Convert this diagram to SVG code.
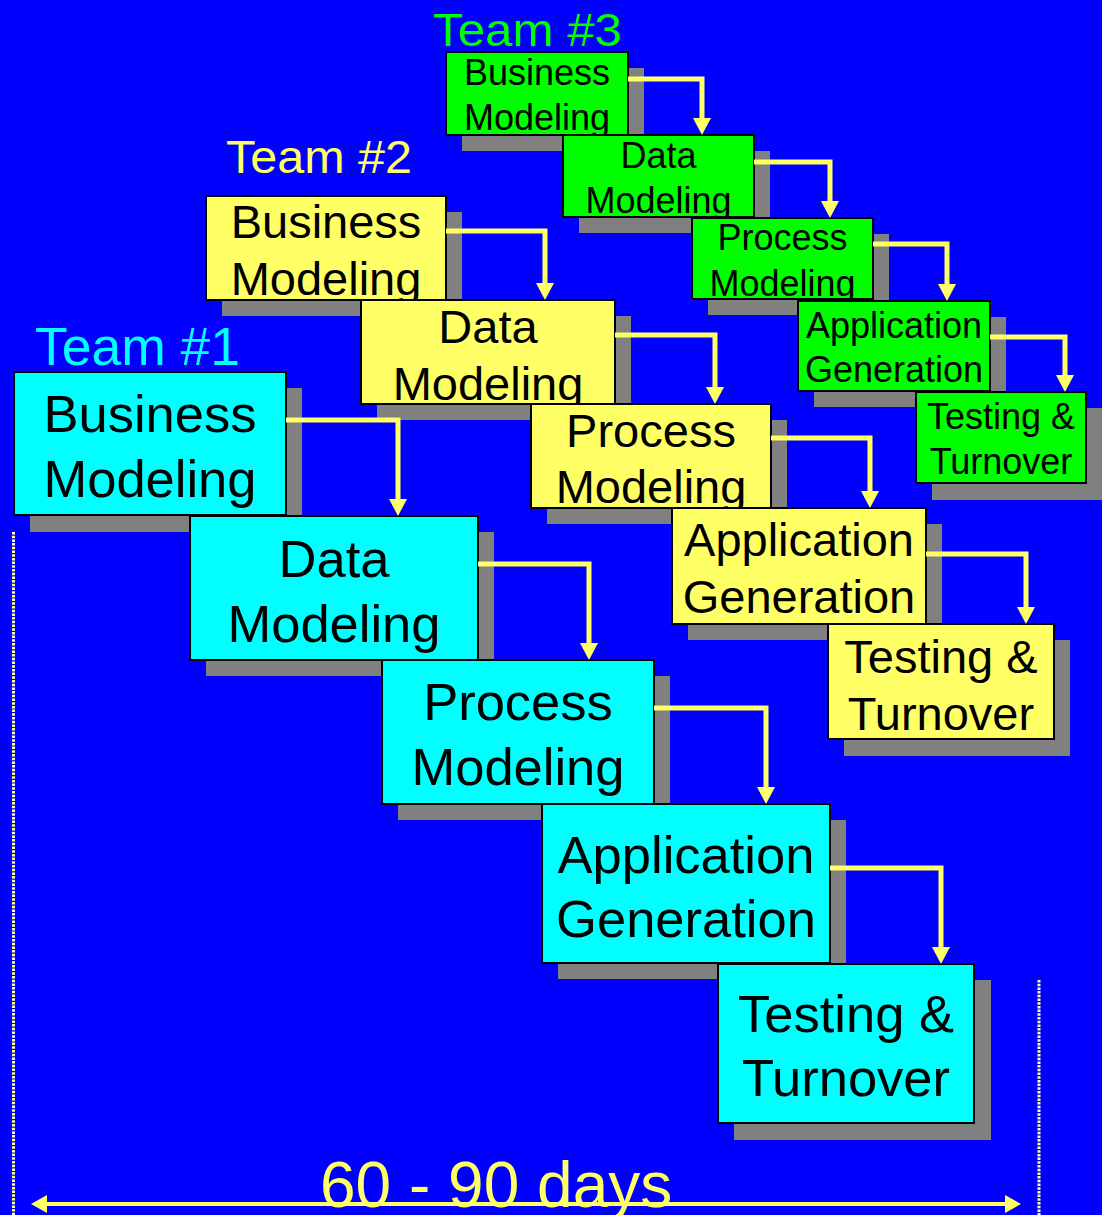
<svg xmlns="http://www.w3.org/2000/svg" width="1102" height="1215" viewBox="0 0 1102 1215">
  <style>
    text { font-family: "Liberation Sans", Arial, sans-serif; }
    .shadow { fill: #808080; }
    .box { stroke: #000; stroke-width: 2; }
    .t1 .box { fill: #00FFFF; }
    .t2 .box { fill: #FFFF66; }
    .t3 .box { fill: #00FF00; }
    .lbl { fill: #000; text-anchor: middle; }
    .t1 .lbl { font-size: 52.5px; }
    .t2 .lbl { font-size: 47px; }
    .t3 .lbl { font-size: 36px; }
    .frame { fill: none; stroke: #000; stroke-width: 2; }
    .link { fill: none; stroke: #FFFF66; stroke-width: 5; stroke-linejoin: miter; marker-end: url(#head); }
    .team { font-size: 47px; }
    .span { fill: none; stroke: #FFFF66; stroke-width: 4; }
    .tick { fill: none; stroke: #FFFF99; stroke-width: 3; stroke-dasharray: 2.5 1.2; }
  </style>
  <defs>
    <marker id="head" markerUnits="userSpaceOnUse" viewBox="0 0 17 18" markerWidth="17" markerHeight="18" refX="0" refY="9" orient="auto">
      <path d="M0,0 L17,9 L0,18 Z" fill="#FFFF66"/>
    </marker>
    <!-- clip regions so labels never spill past their box -->
    <clipPath id="c3b"><rect x="446" y="52" width="182" height="83"/></clipPath>
    <clipPath id="c3d"><rect x="563" y="135" width="191" height="82"/></clipPath>
    <clipPath id="c3p"><rect x="692" y="218" width="181" height="81"/></clipPath>
    <clipPath id="c3a"><rect x="798" y="301" width="192" height="90"/></clipPath>
    <clipPath id="c3t"><rect x="916" y="392" width="170" height="91"/></clipPath>
    <clipPath id="c2b"><rect x="206" y="196" width="240" height="104"/></clipPath>
    <clipPath id="c2d"><rect x="361" y="300" width="254" height="104"/></clipPath>
    <clipPath id="c2p"><rect x="531" y="404" width="240" height="104"/></clipPath>
    <clipPath id="c2a"><rect x="672" y="508" width="254" height="116"/></clipPath>
    <clipPath id="c2t"><rect x="828" y="624" width="226" height="115"/></clipPath>
    <clipPath id="c1b"><rect x="14" y="372" width="272" height="143"/></clipPath>
    <clipPath id="c1d"><rect x="190" y="516" width="288" height="144"/></clipPath>
    <clipPath id="c1p"><rect x="382" y="660" width="272" height="144"/></clipPath>
    <clipPath id="c1a"><rect x="542" y="804" width="288" height="159"/></clipPath>
    <clipPath id="c1t"><rect x="718" y="964" width="256" height="159"/></clipPath>
  </defs>

  <rect width="1102" height="1215" fill="#0000FF"/>

  <!-- team headings -->
  <g id="team-labels">
    <text class="team" x="433" y="46" fill="#00FF00" textLength="189" lengthAdjust="spacingAndGlyphs">Team #3</text>
    <text class="team" x="226" y="173" fill="#FFFF66" textLength="186" lengthAdjust="spacingAndGlyphs">Team #2</text>
    <text class="team" x="35" y="365" fill="#00FFFF" style="font-size:53px" textLength="205" lengthAdjust="spacingAndGlyphs">Team #1</text>
  </g>

  <!-- Team 3 (back) -->
  <g class="t3">
    <g id="t3-business">
      <rect class="shadow" x="462" y="68" width="182" height="83"/>
      <rect class="box" x="446" y="52" width="182" height="83"/>
      <g clip-path="url(#c3b)"><text class="lbl" x="537" y="85">Business</text><text class="lbl" x="537" y="130">Modeling</text></g>
      <rect class="frame" x="446" y="52" width="182" height="83"/>
    </g>
    <g id="t3-data">
      <rect class="shadow" x="579" y="151" width="191" height="82"/>
      <rect class="box" x="563" y="135" width="191" height="82"/>
      <g clip-path="url(#c3d)"><text class="lbl" x="658.5" y="168">Data</text><text class="lbl" x="658.5" y="213">Modeling</text></g>
      <rect class="frame" x="563" y="135" width="191" height="82"/>
    </g>
    <g id="t3-process">
      <rect class="shadow" x="708" y="234" width="181" height="81"/>
      <rect class="box" x="692" y="218" width="181" height="81"/>
      <g clip-path="url(#c3p)"><text class="lbl" x="782.5" y="250">Process</text><text class="lbl" x="782.5" y="296">Modeling</text></g>
      <rect class="frame" x="692" y="218" width="181" height="81"/>
    </g>
    <g id="t3-appgen">
      <rect class="shadow" x="814" y="317" width="192" height="90"/>
      <rect class="box" x="798" y="301" width="192" height="90"/>
      <g clip-path="url(#c3a)"><text class="lbl" x="894" y="338">Application</text><text class="lbl" x="894" y="382">Generation</text></g>
      <rect class="frame" x="798" y="301" width="192" height="90"/>
    </g>
    <g id="t3-testing">
      <rect class="shadow" x="932" y="408" width="170" height="92"/>
      <rect class="box" x="916" y="392" width="170" height="91"/>
      <g clip-path="url(#c3t)"><text class="lbl" x="1001" y="429">Testing &amp;</text><text class="lbl" x="1001" y="474">Turnover</text></g>
      <rect class="frame" x="916" y="392" width="170" height="91"/>
    </g>
  </g>

  <!-- Team 2 (middle) -->
  <g class="t2">
    <g id="t2-business">
      <rect class="shadow" x="222" y="212" width="240" height="104"/>
      <rect class="box" x="206" y="196" width="240" height="104"/>
      <g clip-path="url(#c2b)"><text class="lbl" x="326" y="238">Business</text><text class="lbl" x="326" y="295">Modeling</text></g>
      <rect class="frame" x="206" y="196" width="240" height="104"/>
    </g>
    <g id="t2-data">
      <rect class="shadow" x="377" y="316" width="254" height="104"/>
      <rect class="box" x="361" y="300" width="254" height="104"/>
      <g clip-path="url(#c2d)"><text class="lbl" x="488" y="343">Data</text><text class="lbl" x="488" y="400">Modeling</text></g>
      <rect class="frame" x="361" y="300" width="254" height="104"/>
    </g>
    <g id="t2-process">
      <rect class="shadow" x="547" y="420" width="240" height="104"/>
      <rect class="box" x="531" y="404" width="240" height="104"/>
      <g clip-path="url(#c2p)"><text class="lbl" x="651" y="447">Process</text><text class="lbl" x="651" y="503">Modeling</text></g>
      <rect class="frame" x="531" y="404" width="240" height="104"/>
    </g>
    <g id="t2-appgen">
      <rect class="shadow" x="688" y="524" width="254" height="116"/>
      <rect class="box" x="672" y="508" width="254" height="116"/>
      <g clip-path="url(#c2a)"><text class="lbl" x="799" y="556">Application</text><text class="lbl" x="799" y="613">Generation</text></g>
      <rect class="frame" x="672" y="508" width="254" height="116"/>
    </g>
    <g id="t2-testing">
      <rect class="shadow" x="844" y="640" width="226" height="116"/>
      <rect class="box" x="828" y="624" width="226" height="115"/>
      <g clip-path="url(#c2t)"><text class="lbl" x="941" y="673">Testing &amp;</text><text class="lbl" x="941" y="730">Turnover</text></g>
      <rect class="frame" x="828" y="624" width="226" height="115"/>
    </g>
  </g>

  <!-- Team 1 (front) -->
  <g class="t1">
    <g id="t1-business">
      <rect class="shadow" x="30" y="388" width="272" height="144"/>
      <rect class="box" x="14" y="372" width="272" height="143"/>
      <g clip-path="url(#c1b)"><text class="lbl" x="150" y="432">Business</text><text class="lbl" x="150" y="497">Modeling</text></g>
      <rect class="frame" x="14" y="372" width="272" height="143"/>
    </g>
    <g id="t1-data">
      <rect class="shadow" x="206" y="532" width="288" height="144"/>
      <rect class="box" x="190" y="516" width="288" height="144"/>
      <g clip-path="url(#c1d)"><text class="lbl" x="334" y="577">Data</text><text class="lbl" x="334" y="642">Modeling</text></g>
      <rect class="frame" x="190" y="516" width="288" height="144"/>
    </g>
    <g id="t1-process">
      <rect class="shadow" x="398" y="676" width="272" height="144"/>
      <rect class="box" x="382" y="660" width="272" height="144"/>
      <g clip-path="url(#c1p)"><text class="lbl" x="518" y="720">Process</text><text class="lbl" x="518" y="785">Modeling</text></g>
      <rect class="frame" x="382" y="660" width="272" height="144"/>
    </g>
    <g id="t1-appgen">
      <rect class="shadow" x="558" y="820" width="288" height="159"/>
      <rect class="box" x="542" y="804" width="288" height="159"/>
      <g clip-path="url(#c1a)"><text class="lbl" x="686" y="873">Application</text><text class="lbl" x="686" y="937">Generation</text></g>
      <rect class="frame" x="542" y="804" width="288" height="159"/>
    </g>
    <g id="t1-testing">
      <rect class="shadow" x="734" y="980" width="257" height="160"/>
      <rect class="box" x="718" y="964" width="256" height="159"/>
      <g clip-path="url(#c1t)"><text class="lbl" x="846" y="1032">Testing &amp;</text><text class="lbl" x="846" y="1096">Turnover</text></g>
      <rect class="frame" x="718" y="964" width="256" height="159"/>
    </g>
  </g>

  <!-- step-to-step connectors -->
  <g id="connectors">
    <path class="link" d="M628,79 H702 V118"/>
    <path class="link" d="M754,162 H830 V201"/>
    <path class="link" d="M873,244 H947 V284"/>
    <path class="link" d="M990,337 H1065 V375"/>
    <path class="link" d="M446,231 H545 V283"/>
    <path class="link" d="M615,335 H715 V387"/>
    <path class="link" d="M771,438 H870 V491"/>
    <path class="link" d="M926,554 H1026 V607"/>
    <path class="link" d="M286,420 H398 V499"/>
    <path class="link" d="M478,564 H589 V643"/>
    <path class="link" d="M654,708 H766 V787"/>
    <path class="link" d="M830,868 H941 V947"/>
  </g>

  <!-- overall time span -->
  <g id="timespan">
    <line class="tick" x1="13.5" y1="532" x2="13.5" y2="1215"/>
    <line class="tick" x1="1039" y1="980" x2="1039" y2="1215"/>
    <line class="span" x1="44" y1="1204" x2="1008" y2="1204"/>
    <polygon points="31,1204 47,1195 47,1213" fill="#FFFF66"/>
    <polygon points="1021,1204 1005,1195 1005,1213" fill="#FFFF66"/>
    <text x="320" y="1207" fill="#FFFF66" style="font-size:64px">60 - 90 days</text>
  </g>
</svg>
